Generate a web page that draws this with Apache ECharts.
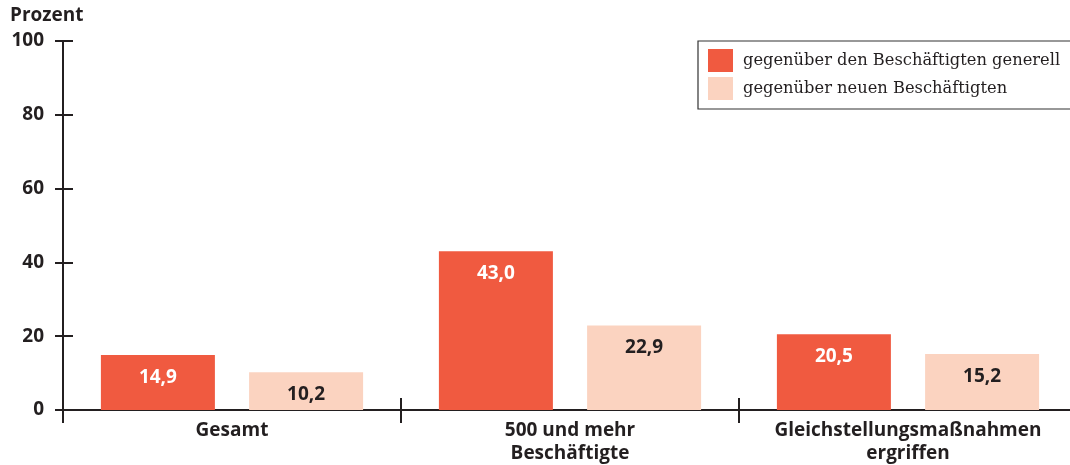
<!DOCTYPE html>
<html>
<head>
<meta charset="utf-8">
<script src="https://cdn.jsdelivr.net/npm/echarts@6/dist/echarts.min.js"></script>
<style>
  html, body { margin: 0; padding: 0; background: #fff; overflow: hidden; }
  /* the plot runs a few pixels past the right edge of the window */
  #chart { width: 1077px; height: 465px; }
</style>
</head>
<body>
<div id="chart"></div>
<script>
// Kategorien und Anteile in Prozent
const categories = ['Gesamt', '500 und mehr\nBeschäftigte', 'Gleichstellungsmaßnahmen\nergriffen'];
const seriesNames = ['gegenüber den Beschäftigten generell', 'gegenüber neuen Beschäftigten'];
const generell = [14.9, 43.0, 20.5];
const neu = [10.2, 22.9, 15.2];
const yTicks = [0, 20, 40, 60, 80, 100];

const ink = '#231F20';
const red = '#F05A40';
const pink = '#FBD3C0';
const sans = '"Open Sans", "DejaVu Sans", sans-serif';
const serif = '"DejaVu Serif", "Liberation Serif", serif';

const fmt = p => p.value.toFixed(1).replace('.', ',');

const chart = echarts.init(document.getElementById('chart'), null, { renderer: 'canvas' });

const yBase = {
  type: 'value',
  min: yTicks[0],
  max: yTicks[yTicks.length - 1],
  interval: yTicks[1] - yTicks[0],
  splitLine: { show: false }
};

const xBase = {
  type: 'category',
  data: categories,
  boundaryGap: true,
  position: 'bottom'
};

chart.setOption({
  animation: false,
  title: {
    text: 'Prozent',
    left: 5,
    top: 1,
    textStyle: { fontFamily: sans, fontWeight: 700, fontSize: 19, color: ink }
  },
  legend: {
    orient: 'vertical',
    left: 698,
    top: 41,
    padding: [8, 60, 9, 10],
    itemWidth: 25,
    itemHeight: 23,
    itemGap: 5,
    icon: 'rect',
    borderColor: '#333',
    borderWidth: 1.2,
    data: seriesNames,
    textStyle: { fontFamily: serif, fontSize: 16.3, color: ink, padding: [0, 0, 0, 5] }
  },
  grid: { left: 63, right: 0, top: 41, bottom: 55, containLabel: false },
  xAxis: [
    Object.assign({}, xBase, {
      axisLine: { show: true, lineStyle: { color: ink, width: 2 } },
      axisTick: { show: true, inside: false, length: 13, lineStyle: { color: ink, width: 2 } },
      axisLabel: {
        fontFamily: sans, fontWeight: 700, fontSize: 19, color: ink,
        margin: 9, lineHeight: 23, interval: 0
      }
    }),
    Object.assign({}, xBase, {
      axisLine: { show: false },
      axisTick: { show: true, inside: true, length: 12, lineStyle: { color: ink, width: 2 } },
      axisLabel: { show: false }
    })
  ],
  yAxis: [
    Object.assign({}, yBase, {
      position: 'left',
      axisLine: { show: true, lineStyle: { color: ink, width: 2 } },
      axisTick: { show: true, inside: false, length: 8, lineStyle: { color: ink, width: 2 } },
      axisLabel: { fontFamily: sans, fontWeight: 700, fontSize: 19, color: ink, margin: 19 }
    }),
    Object.assign({}, yBase, {
      position: 'left',
      offset: 0,
      axisLine: { show: false },
      axisTick: { show: true, inside: true, length: 10, lineStyle: { color: ink, width: 2 } },
      axisLabel: { show: false }
    })
  ],
  series: [
    {
      name: seriesNames[0],
      type: 'bar',
      xAxisIndex: 0,
      yAxisIndex: 0,
      data: generell,
      barWidth: 114,
      barGap: '30%',
      itemStyle: { color: red },
      label: {
        show: true, position: 'insideTop', distance: 13, formatter: fmt,
        fontFamily: sans, fontWeight: 700, fontSize: 19, color: '#fff'
      }
    },
    {
      name: seriesNames[1],
      type: 'bar',
      xAxisIndex: 0,
      yAxisIndex: 0,
      data: neu,
      barWidth: 114,
      barGap: '30%',
      itemStyle: { color: pink },
      label: {
        show: true, position: 'insideTop', distance: 13, formatter: fmt,
        fontFamily: sans, fontWeight: 700, fontSize: 19, color: ink
      }
    }
  ]
});
</script>
</body>
</html>
